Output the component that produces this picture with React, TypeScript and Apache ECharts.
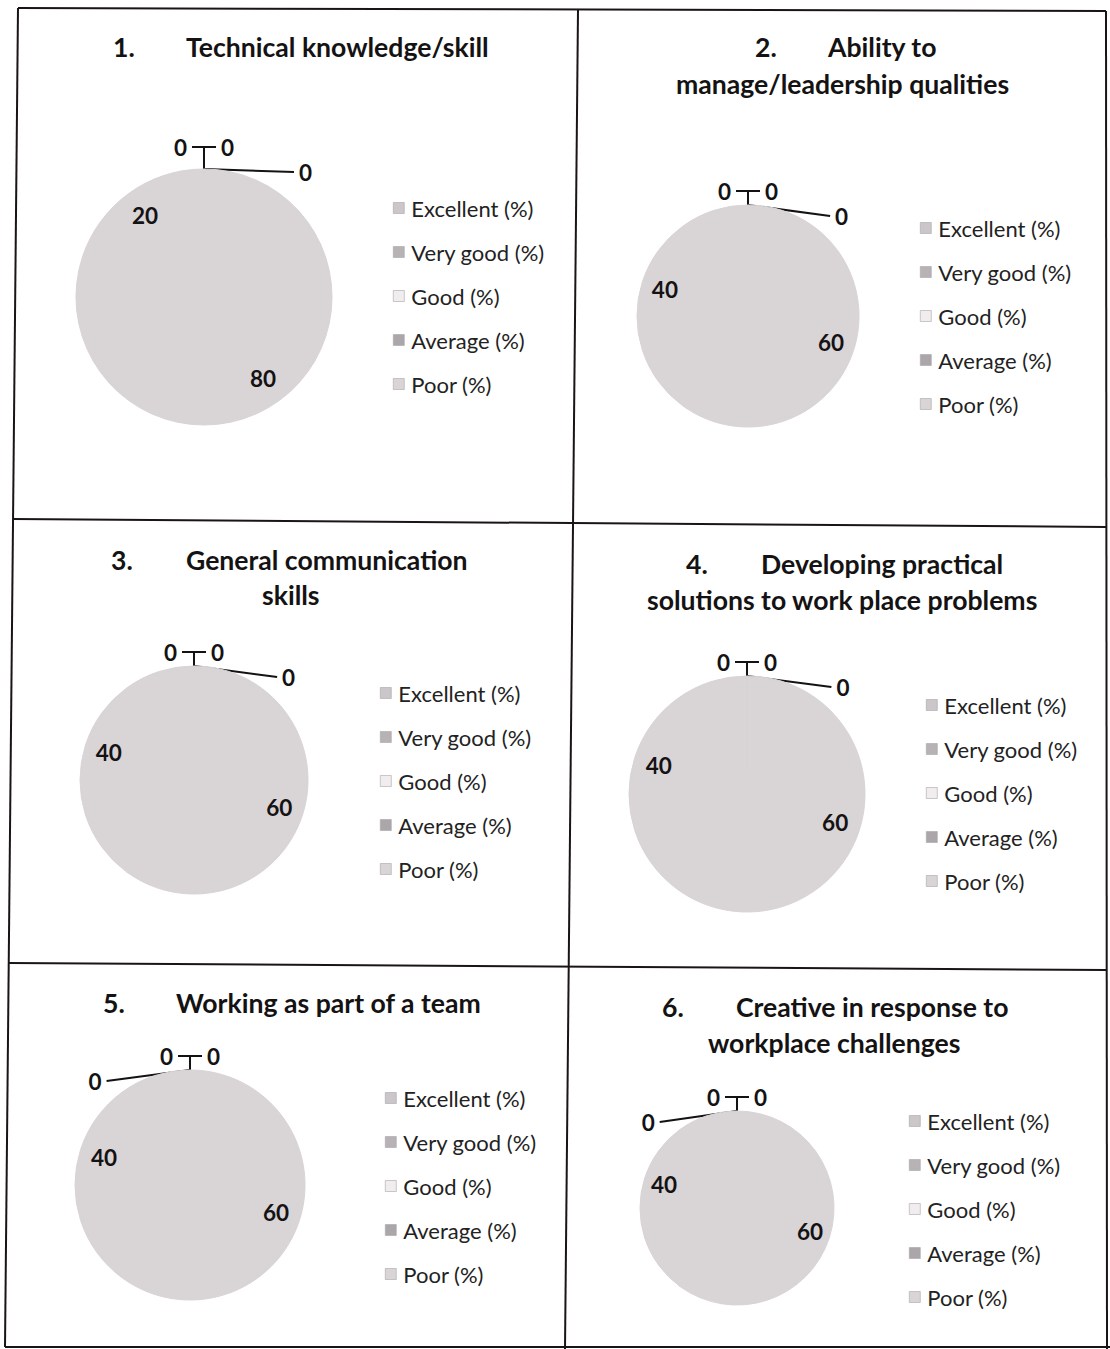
import React, { useEffect, useRef } from "react";
import * as echarts from "echarts";

const categories = ["Excellent (%)", "Very good (%)", "Good (%)", "Average (%)", "Poor (%)"];
const legendColors = ["#cbc6c9", "#b7b2b5", "#f1edef", "#aba6a9", "#d9d5d7"];

const chartTitles = [
  ["1.", "Technical knowledge/skill", ""],
  ["2.", "Ability to", "manage/leadership qualities"],
  ["3.", "General communication", "skills"],
  ["4.", "Developing practical", "solutions to work place problems"],
  ["5.", "Working as part of a team", ""],
  ["6.", "Creative in response to", "workplace challenges"],
];

const values1 = [0, 0, 80, 20, 0];
const values2 = [0, 0, 60, 40, 0];
const values3 = [0, 0, 60, 40, 0];
const values4 = [0, 0, 60, 40, 0];
const values5 = [0, 60, 40, 0, 0];
const values6 = [0, 60, 40, 0, 0];
const allValues = [values1, values2, values3, values4, values5, values6];

// layout (positions, sizes)
const pieLayout = [
  { cx: 204, cy: 297, r: 128, line: 22 },
  { cx: 748, cy: 316, r: 111, line: 14 },
  { cx: 194, cy: 780, r: 114, line: 14 },
  { cx: 747, cy: 794, r: 118, line: 14 },
  { cx: 190, cy: 1185, r: 115, line: 14 },
  { cx: 737, cy: 1208, r: 97, line: 14 },
];
const legendLayout = [
  { left: 393, top: 197 },
  { left: 920, top: 217 },
  { left: 380, top: 682 },
  { left: 926, top: 694 },
  { left: 385, top: 1087 },
  { left: 909, top: 1110 },
];
const titleLayout = [
  { numX: 113, textX: 186, y1: 47, line2X: 0, y2: 0 },
  { numX: 755, textX: 828, y1: 47, line2X: 676, y2: 84 },
  { numX: 111, textX: 186, y1: 560, line2X: 262, y2: 595 },
  { numX: 686, textX: 761, y1: 564, line2X: 647, y2: 600 },
  { numX: 103, textX: 176, y1: 1003, line2X: 0, y2: 0 },
  { numX: 662, textX: 736, y1: 1007, line2X: 708, y2: 1043 },
];

const FONT = "Lato, 'Open Sans', sans-serif";
const PIE_GREY = "#d9d4d6";
const INK = "#141213";
const START = 89.995;

export default function App() {
  const ref = useRef<HTMLDivElement>(null);

  useEffect(() => {
    if (!ref.current) return;
    const chart = echarts.init(ref.current, null, { renderer: "svg" });

    const titles: any[] = [];
    titleLayout.forEach((t, i) => {
      const [num, l1, l2] = chartTitles[i];
      const ts = { fontFamily: FONT, fontSize: 26.6, fontWeight: 700, color: INK, lineHeight: 30 };
      titles.push({ text: num, left: t.numX, top: t.y1 - 15, padding: 0, textStyle: ts });
      titles.push({ text: l1, left: t.textX, top: t.y1 - 15, padding: 0, textStyle: ts });
      if (l2) titles.push({ text: l2, left: t.line2X, top: t.y2 - 15, padding: 0, textStyle: ts });
    });

    const legends = legendLayout.map((l) => ({
      orient: "vertical",
      left: l.left,
      top: l.top,
      padding: 0,
      itemWidth: 11,
      itemHeight: 11,
      itemGap: 22,
      icon: "rect",
      selectedMode: false,
      textStyle: { fontFamily: FONT, fontSize: 22, color: "#222", lineHeight: 22, padding: [0, 0, 0, 2] },
      data: categories.map((c, k) => ({ name: c, itemStyle: { color: legendColors[k], borderColor: "#a9a4a7", borderWidth: 0.6 } })),
    }));

    const labelStyle = { fontFamily: FONT, fontSize: 22.5, fontWeight: 700, color: INK };
    const series: any[] = [];
    allValues.forEach((vals, i) => {
      const p = pieLayout[i];
      series.push({
        type: "pie",
        center: [p.cx, p.cy],
        radius: [0, p.r],
        startAngle: START,
        endAngle: START - 359.99,
        clockwise: true,
        avoidLabelOverlap: true,
        emphasis: { disabled: true },
        label: { position: "outside", ...labelStyle, formatter: "{c}" },
        labelLine: { length: p.line, length2: 12, lineStyle: { color: INK, width: 2 } },
        data: vals.map((v, k) => ({
          name: categories[k],
          value: v,
          itemStyle: { color: PIE_GREY, borderColor: PIE_GREY, borderWidth: 1 },
          label: { show: v === 0 },
          labelLine: { show: v === 0 },
        })),
      });
      series.push({
        type: "pie",
        center: [p.cx, p.cy],
        radius: [p.r * 0.52, p.r],
        startAngle: START,
        endAngle: START - 359.99,
        clockwise: true,
        silent: true,
        avoidLabelOverlap: false,
        emphasis: { disabled: true },
        label: { position: "inside", ...labelStyle, formatter: "{c}" },
        labelLine: { show: false },
        data: vals.map((v, k) => ({
          name: categories[k],
          value: v,
          itemStyle: { color: "rgba(0,0,0,0)" },
          label: { show: v > 0 },
        })),
      });
    });

    const lineStyle = { stroke: "#1a1416", lineWidth: 2 };
    const gridLines = [
      [18, 8, 1106, 11],
      [18, 8, 5, 1347],
      [5, 1347, 1110, 1347],
      [1106, 11, 1107, 1349],
      [578, 10, 565, 1349],
      [13, 519, 1106, 527],
      [9, 963, 1106, 970],
    ];

    chart.setOption({
      animation: false,
      backgroundColor: "#ffffff",
      title: titles,
      legend: legends,
      series,
      graphic: gridLines.map(([x1, y1, x2, y2]) => ({
        type: "line",
        shape: { x1, y1, x2, y2 },
        style: lineStyle,
        silent: true,
      })),
    });

    return () => chart.dispose();
  }, []);

  return <div ref={ref} style={{ position: "absolute", left: 0, top: 0, width: 1110, height: 1349 }} />;
}
